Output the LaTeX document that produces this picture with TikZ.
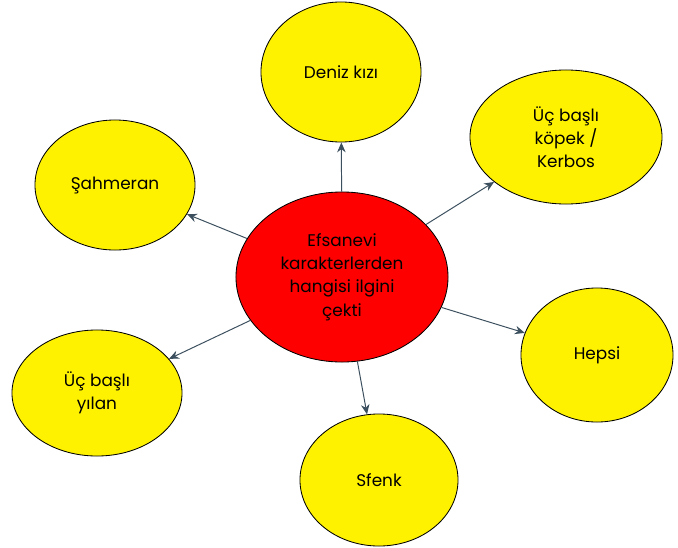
\documentclass[tikz,border=0pt]{standalone}
\usepackage{fontspec}
\setmainfont{Poppins}
\usetikzlibrary{shapes.geometric,arrows.meta}
\definecolor{linkgray}{HTML}{3B4F5E}
\tikzset{
  bubble/.style={ellipse,draw=black,line width=0.6pt,fill=yellow,inner sep=0pt,
    align=center,font=\fontsize{12}{16.5}\selectfont},
  hub/.style={bubble,fill=red},
  link/.style={draw=linkgray,line width=0.7pt,-{Stealth[length=7pt,width=6pt]}}
}
\begin{document}
\begin{tikzpicture}[x=0.025cm,y=-0.025cm]
\useasboundingbox (0,0) rectangle (678,547);
% hub and the six choices
\node[hub,minimum width=5.3cm,minimum height=4.25cm] (hub) at (342,277)
  {Efsanevi\\karakterlerden\\hangisi ilgini\\çekti};
\node[bubble,minimum width=4cm,minimum height=3.5cm] (deniz) at (341,72) {Deniz kızı};
\node[bubble,minimum width=4.8cm,minimum height=3.35cm] (kopek) at (566,137)
  {Üç başlı\\köpek /\\Kerbos};
\node[bubble,minimum width=4cm,minimum height=3.25cm] (sahmeran) at (115,185) {Şahmeran};
\node[bubble,minimum width=3.8cm,minimum height=3.35cm] (hepsi) at (597,355) {Hepsi};
\node[bubble,minimum width=4.25cm,minimum height=3.15cm] (yilan) at (97,393) {Üç başlı\\yılan};
\node[bubble,minimum width=3.95cm,minimum height=3.3cm] (sfenk) at (379,480) {Sfenk};
\draw[link] (hub) -- (deniz);
\draw[link] (hub) -- (kopek);
\draw[link] (hub) -- (sahmeran);
\draw[link] (hub) -- (hepsi);
\draw[link] (hub) -- (yilan);
\draw[link] (hub) -- (sfenk);
\end{tikzpicture}
\end{document}
